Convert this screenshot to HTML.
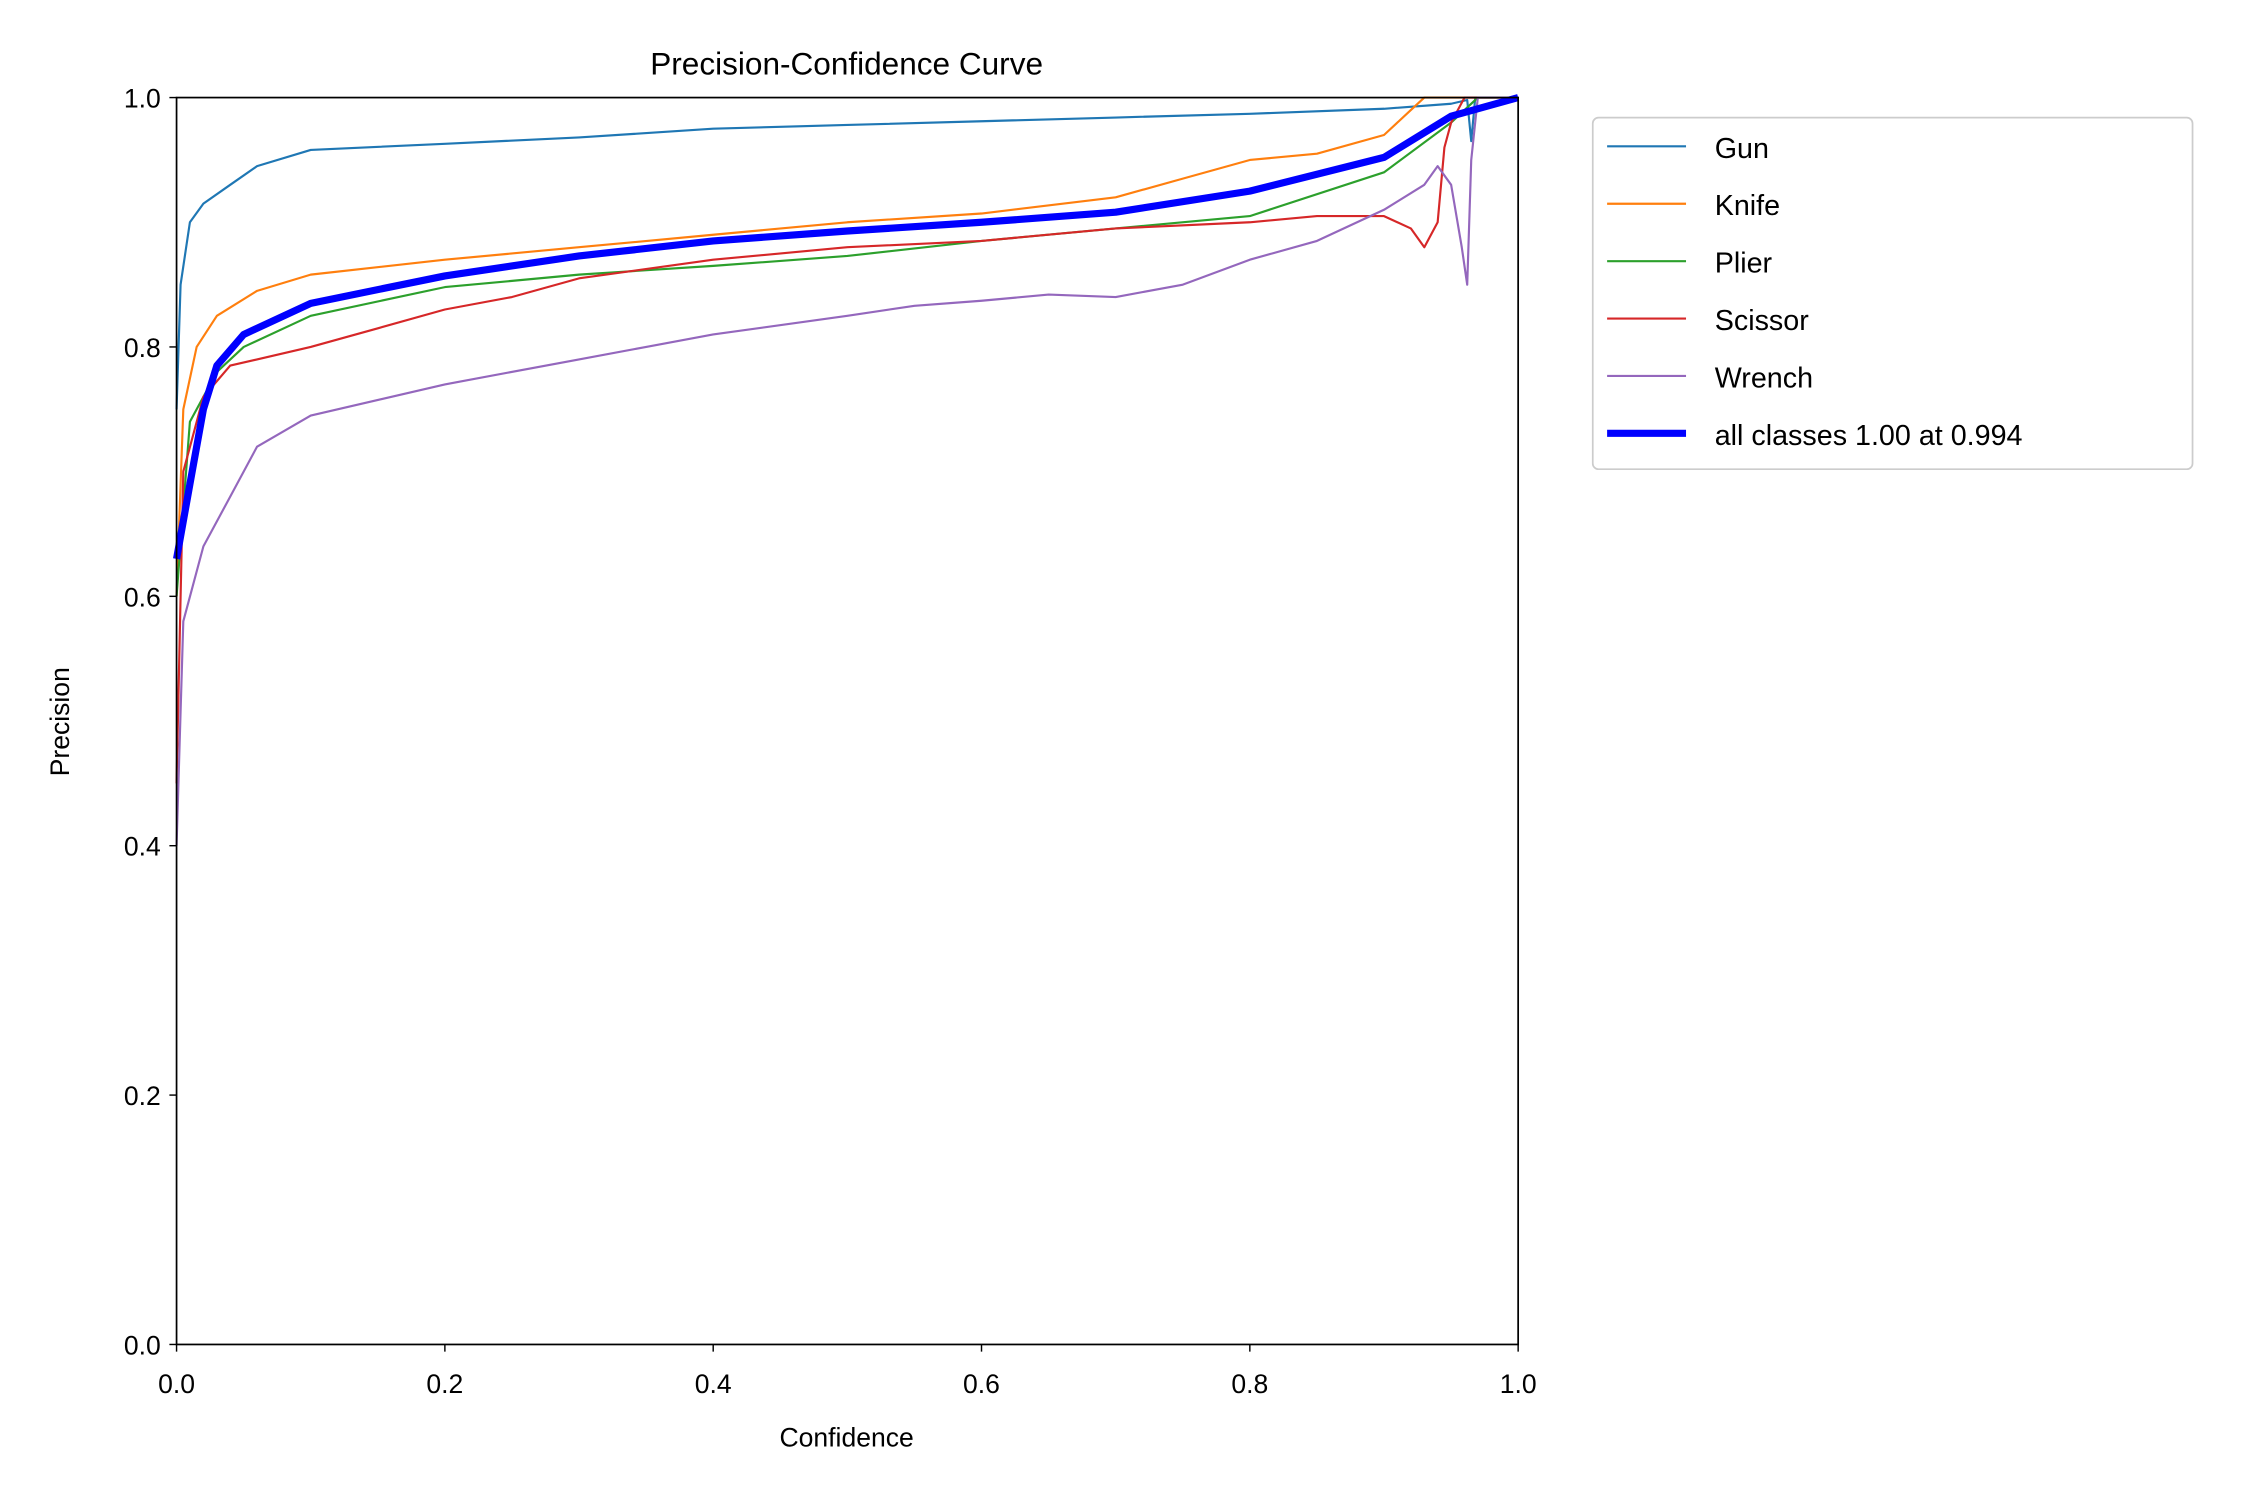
<!DOCTYPE html>
<html><head><meta charset="utf-8"><style>
html,body{margin:0;padding:0;background:#fff;}
svg{display:block;font-family:"Liberation Sans","DejaVu Sans",sans-serif;}
</style></head><body>
<svg id="s" width="2250" height="1500" viewBox="0 0 1568 1045.4" xmlns="http://www.w3.org/2000/svg">
<rect width="1568" height="1046" fill="#fff"/>
<text x="590" y="52" font-size="22" text-anchor="middle">Precision-Confidence Curve</text>
<g id="curves" fill="none" stroke-linejoin="round"></g>
<rect x="123" y="68" width="935" height="869" fill="none" stroke="#000" stroke-width="1.2"/>
<g id="ticks" font-size="18.5"></g>
<text x="590" y="1008" font-size="18.5" text-anchor="middle">Confidence</text>
<text transform="translate(48,503) rotate(-90)" font-size="18.5" text-anchor="middle">Precision</text>
<g>
<rect x="1110" y="82" width="418" height="245" rx="4" fill="#fff" stroke="#ccc" stroke-width="1.2"/>
<line x1="1120" y1="102" x2="1175" y2="102" stroke="#1f77b4" stroke-width="1.5"/><text x="1195" y="110" font-size="20">Gun</text>
<line x1="1120" y1="142" x2="1175" y2="142" stroke="#ff7f0e" stroke-width="1.5"/><text x="1195" y="150" font-size="20">Knife</text>
<line x1="1120" y1="182" x2="1175" y2="182" stroke="#2ca02c" stroke-width="1.5"/><text x="1195" y="190" font-size="20">Plier</text>
<line x1="1120" y1="222" x2="1175" y2="222" stroke="#d62728" stroke-width="1.5"/><text x="1195" y="230" font-size="20">Scissor</text>
<line x1="1120" y1="262" x2="1175" y2="262" stroke="#9467bd" stroke-width="1.5"/><text x="1195" y="270" font-size="20">Wrench</text>
<line x1="1120" y1="302" x2="1175" y2="302" stroke="#0000ff" stroke-width="5"/><text x="1195" y="310" font-size="20">all classes 1.00 at 0.994</text>
</g>
</svg>
<script>
var X=function(c){return 123+c*935},Y=function(p){return 937-p*869};
var data={
"#1f77b4":[[0,0.75],[0.003,0.85],[0.01,0.9],[0.02,0.915],[0.04,0.93],[0.06,0.945],[0.1,0.958],[0.2,0.963],[0.3,0.968],[0.4,0.975],[0.5,0.978],[0.6,0.981],[0.7,0.984],[0.8,0.987],[0.9,0.991],[0.95,0.995],[0.962,0.998],[0.965,0.965],[0.968,1],[1,1]],
"#ff7f0e":[[0,0.6],[0.005,0.75],[0.015,0.8],[0.03,0.825],[0.06,0.845],[0.1,0.858],[0.2,0.87],[0.3,0.88],[0.4,0.89],[0.5,0.9],[0.6,0.907],[0.7,0.92],[0.75,0.935],[0.8,0.95],[0.85,0.955],[0.9,0.97],[0.92,0.99],[0.93,1],[1,1]],
"#2ca02c":[[0,0.6],[0.01,0.74],[0.03,0.78],[0.05,0.8],[0.1,0.825],[0.2,0.848],[0.3,0.858],[0.4,0.865],[0.5,0.873],[0.6,0.885],[0.7,0.895],[0.8,0.905],[0.9,0.94],[0.95,0.98],[0.97,1],[1,1]],
"#d62728":[[0,0.45],[0.005,0.7],[0.02,0.76],[0.04,0.785],[0.06,0.79],[0.1,0.8],[0.15,0.815],[0.2,0.83],[0.25,0.84],[0.3,0.855],[0.4,0.87],[0.5,0.88],[0.6,0.885],[0.7,0.895],[0.8,0.9],[0.85,0.905],[0.9,0.905],[0.92,0.895],[0.93,0.88],[0.94,0.9],[0.945,0.96],[0.95,0.98],[0.96,1],[1,1]],
"#9467bd":[[0,0.4],[0.005,0.58],[0.02,0.64],[0.04,0.68],[0.06,0.72],[0.1,0.745],[0.2,0.77],[0.3,0.79],[0.35,0.8],[0.4,0.81],[0.5,0.825],[0.55,0.833],[0.6,0.837],[0.65,0.842],[0.7,0.84],[0.75,0.85],[0.8,0.87],[0.85,0.885],[0.9,0.91],[0.93,0.93],[0.94,0.945],[0.95,0.93],[0.958,0.88],[0.962,0.85],[0.965,0.95],[0.97,1],[1,1]],
"#0000ff":[[0,0.63],[0.01,0.69],[0.02,0.75],[0.03,0.785],[0.05,0.81],[0.1,0.835],[0.2,0.857],[0.3,0.873],[0.4,0.885],[0.5,0.893],[0.6,0.9],[0.7,0.908],[0.8,0.925],[0.9,0.952],[0.95,0.985],[1,1]]
};
var g=document.getElementById('curves'),h='';
for(var c in data){var d=data[c].map(function(p,i){return (i?'L':'M')+X(p[0]).toFixed(1)+' '+Y(p[1]).toFixed(1)}).join('');
h+='<path d="'+d+'" stroke="'+c+'" stroke-width="'+(c=="#0000ff"?5:1.5)+'"/>';}
g.innerHTML=h;
var t='';
for(var i=0;i<=5;i++){var v=(i*0.2).toFixed(1);
t+='<line x1="'+X(i*0.2)+'" y1="937" x2="'+X(i*0.2)+'" y2="942" stroke="#000"/><text x="'+X(i*0.2)+'" y="971" text-anchor="middle">'+v+'</text>';
t+='<line x1="118" y1="'+Y(i*0.2)+'" x2="123" y2="'+Y(i*0.2)+'" stroke="#000"/><text x="112" y="'+(Y(i*0.2)+7)+'" text-anchor="end">'+v+'</text>';}
document.getElementById('ticks').innerHTML=t;
</script>
</body></html>
